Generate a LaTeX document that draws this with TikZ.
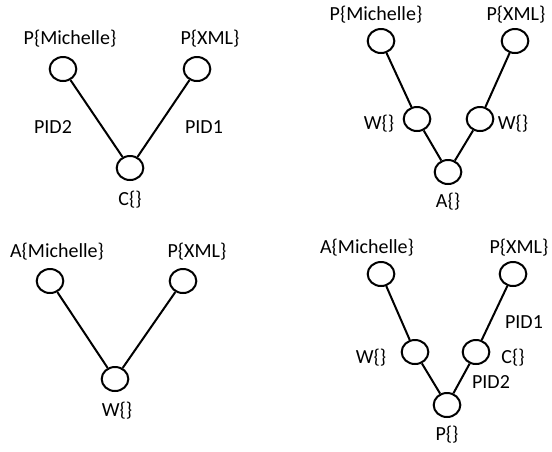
\documentclass[tikz,border=0pt]{standalone}
\usepackage{fontspec}
\setmainfont{Carlito}
\usetikzlibrary{shapes.geometric}
\begin{document}
\begin{tikzpicture}[x=0.75pt,y=-0.75pt,line width=1.5pt,font=\fontsize{15}{18}\selectfont,
	vertex/.style={draw,ellipse,minimum width=20pt,minimum height=18pt,inner sep=0pt}]
	\useasboundingbox (0,0) rectangle (552,451);
	% upper left
	\node[vertex] (pm1) at (63,69) {};
	\node[vertex] (px1) at (197,69) {};
	\node[vertex] (c1) at (130,168) {};
	\node (lpm1) at (70,39) {P\{Michelle\}};
	\node (lpx1) at (210,39) {P\{XML\}};
	\node (lc1) at (130,200) {C\{\}};
	\node (pid2a) at (53,127) {PID2};
	\node (pid1a) at (204,127) {PID1};
	\draw (pm1)--(c1)--(px1);
	% upper right
	\node[vertex] (pm2) at (381,41) {};
	\node[vertex] (px2) at (515,41) {};
	\node[vertex] (wl2) at (417,119) {};
	\node[vertex] (wr2) at (480,119) {};
	\node[vertex] (a2) at (448,172) {};
	\node (lpm2) at (376,15) {P\{Michelle\}};
	\node (lpx2) at (516,15) {P\{XML\}};
	\node (lwl2) at (379,124) {W\{\}};
	\node (lwr2) at (513,124) {W\{\}};
	\node (la2) at (448,202) {A\{\}};
	\draw (pm2)--(wl2)--(a2)--(wr2)--(px2);
	% lower left
	\node[vertex] (am3) at (50,281) {};
	\node[vertex] (px3) at (183,281) {};
	\node[vertex] (w3) at (115,379) {};
	\node (lam3) at (57,252) {A\{Michelle\}};
	\node (lpx3) at (197,252) {P\{XML\}};
	\node (lw3) at (117,411) {W\{\}};
	\draw (am3)--(w3)--(px3);
	% lower right
	\node[vertex] (am4) at (381,274) {};
	\node[vertex] (px4) at (513,274) {};
	\node[vertex] (w4) at (415,352) {};
	\node[vertex] (c4) at (476,352) {};
	\node[vertex] (p4) at (447,405) {};
	\node (lam4) at (367,248) {A\{Michelle\}};
	\node (lpx4) at (519,248) {P\{XML\}};
	\node (lw4) at (371,358) {W\{\}};
	\node (lc4) at (513,358) {C\{\}};
	\node (lp4) at (447,435) {P\{\}};
	\node (pid1b) at (524,322) {PID1};
	\node (pid2b) at (491,382) {PID2};
	\draw (am4)--(w4)--(p4)--(c4)--(px4);
\end{tikzpicture}
\end{document}
